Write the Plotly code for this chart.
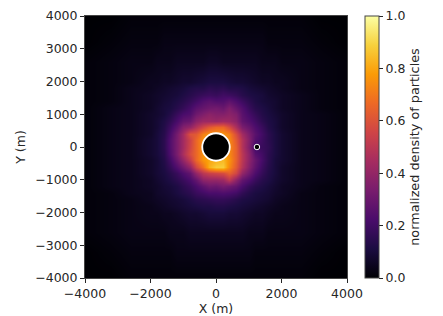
import plotly.graph_objects as go

x_bins = [-4000, -3200, -2600, -2000, -1800, -1600, -1400, -1200, -1000, -800, -600, -400, -200,
          0, 200, 400, 600, 800, 1000, 1200, 1400, 1600, 1800, 2000, 2600, 3200, 4000]
y_bins = [4000, 3200, 2600, 2000, 1800, 1600, 1400, 1200, 1000, 800, 600, 400, 200, 0,
          -200, -400, -600, -800, -1000, -1200, -1400, -1600, -1800, -2000, -2600, -3200, -4000]

# density in percent of the maximum, top row first
density_pct = [
 [0,0,1, 1,1,1,1,1,1,1,1,1,1,1,1,1,1,1,1,1,1,1,1,1, 1,0,0],
 [0,1,2, 2,2,3,3,3,3,3,3,3,3,3,3,3,3,3,3,3,3,2,2,2, 2,1,0],
 [1,2,3, 3,4,4,4,5,5,5,5,5,6,6,5,5,5,5,5,5,4,4,4,3, 3,2,1],
 [1,2,3, 5,5,6,6,7,8,8,9,10,11,11,11,10,9,9,8,7,6,6,5,5, 3,2,1],
 [1,2,4, 5,6,7,8,9,10,12,13,13,15,14,15,13,13,12,10,9,8,7,6,5, 3,2,1],
 [1,2,4, 6,7,8,9,10,12,14,16,18,19,18,20,19,17,14,12,11,10,8,7,6, 4,2,1],
 [1,2,4, 6,7,9,10,12,14,17,20,24,26,24,24,27,23,19,15,12,10,9,8,6, 4,2,1],
 [1,3,4, 6,8,10,11,14,17,21,26,29,31,32,30,35,29,24,18,14,12,10,8,6, 4,2,1],
 [1,3,4, 7,8,10,13,18,22,24,31,35,38,36,36,38,35,26,21,17,13,11,9,7, 4,3,1],
 [1,3,4, 7,9,12,16,22,28,30,38,42,42,41,43,42,38,28,24,20,15,12,10,7, 4,3,1],
 [1,3,4, 7,9,13,19,27,36,40,48,56,62,66,66,58,46,34,29,23,18,13,10,7, 4,3,1],
 [1,3,4, 7,10,14,22,33,44,60,62,72,76,76,76,72,58,44,34,26,20,15,11,8, 4,3,1],
 [1,3,4, 8,10,15,24,34,44,55,66,76,78,78,78,74,62,48,36,24,19,15,11,8, 4,3,1],
 [1,3,4, 8,10,15,24,34,44,56,66,76,78,78,78,74,64,48,35,20,18,16,11,8, 4,3,1],
 [1,3,4, 8,10,14,23,34,46,58,66,76,78,78,78,74,64,50,38,25,20,15,11,8, 4,3,1],
 [1,3,4, 7,9,13,20,30,40,52,66,76,80,82,84,76,64,50,38,29,21,15,10,8, 4,3,1],
 [1,3,4, 7,9,12,17,24,31,40,56,68,82,88,88,74,62,48,36,27,19,14,10,7, 4,3,1],
 [1,3,4, 7,9,11,14,18,23,28,40,50,54,56,58,64,56,40,31,23,17,13,10,7, 4,3,1],
 [1,3,4, 6,8,10,12,15,18,22,28,38,40,40,42,50,38,28,23,18,14,12,9,7, 4,3,1],
 [1,3,4, 6,7,9,10,12,15,18,22,27,31,30,33,31,28,22,17,14,12,10,8,6, 4,2,1],
 [1,2,4, 5,7,8,9,11,13,15,18,20,22,22,23,22,20,16,13,11,10,9,7,6, 3,2,1],
 [1,2,3, 5,6,7,8,9,10,12,14,15,16,17,17,16,14,12,11,10,9,8,6,5, 3,2,1],
 [1,2,3, 4,5,6,7,8,9,10,11,12,12,13,13,12,11,10,9,8,7,6,5,4, 3,2,1],
 [1,2,3, 4,4,5,5,6,7,8,8,9,10,10,10,9,9,8,7,6,6,5,4,4, 3,2,1],
 [1,2,3, 3,3,3,4,4,4,5,5,5,5,5,5,5,5,5,4,4,4,3,3,3, 3,2,1],
 [0,1,2, 2,2,2,2,3,3,3,3,3,3,3,3,3,3,3,3,2,2,2,2,2, 2,1,0],
 [0,0,1, 1,1,1,1,1,1,1,1,1,1,1,1,1,1,1,1,1,1,1,1,1, 1,0,0],
]

body_x = [0, 1250]
body_y = [0, 0]

FONT = "DejaVu Sans"
INK = "#262626"
W, H = 443, 316
L, R, T, B = 84.5, 347.5, 15.5, 278

fig = go.Figure()
fig.add_trace(go.Heatmap(
    x=x_bins, y=y_bins, z=[[v / 100 for v in row] for row in density_pct],
    zmin=0, zmax=1, zsmooth="best", colorscale="Inferno",
    colorbar=dict(
        title=dict(text="normalized density of particles", side="right",
                   font=dict(family=FONT, size=12.8, color=INK)),
        thickness=14, thicknessmode="pixels", len=1, lenmode="fraction",
        x=(365.5 - L) / (R - L), xanchor="left", y=0.5, yanchor="middle", xpad=0, ypad=0,
        tickvals=[0, 0.2, 0.4, 0.6, 0.8, 1.0], ticktext=["0.0", "0.2", "0.4", "0.6", "0.8", "1.0"],
        ticks="outside", ticklen=4, tickwidth=1, tickcolor=INK,
        tickfont=dict(family=FONT, size=12.5, color=INK),
        outlinewidth=1, outlinecolor="#444444",
    ),
))
fig.add_trace(go.Scatter(
    x=body_x, y=body_y, mode="markers", hoverinfo="skip", showlegend=False,
    marker=dict(color="black", opacity=1, size=[27.5, 5.5], line=dict(color="white", width=[1.8, 1])),
))

axis = dict(range=[-4000, 4000], tickvals=[-4000, -2000, 0, 2000, 4000], ticks="outside", ticklen=4,
            tickwidth=1, tickcolor=INK, tickfont=dict(family=FONT, size=12.5, color=INK),
            showgrid=False, zeroline=False, showline=True, linewidth=1, linecolor="#444444", mirror=True)
fig.update_xaxes(**axis, title=dict(text="X (m)", standoff=3, font=dict(family=FONT, size=12.5, color=INK)))
fig.update_yaxes(**{**axis, "tickvals": [-4000, -3000, -2000, -1000, 0, 1000, 2000, 3000, 4000]},
                 title=dict(text="Y (m)", standoff=6, font=dict(family=FONT, size=12.5, color=INK)))
fig.update_layout(width=W, height=H, autosize=False, paper_bgcolor="white", plot_bgcolor="black",
                  margin=dict(l=L, r=W - R, t=T, b=H - B, autoexpand=False), showlegend=False)
fig.write_html("out.html", config={"displayModeBar": False},
               post_script="document.body.style.margin='0';")
